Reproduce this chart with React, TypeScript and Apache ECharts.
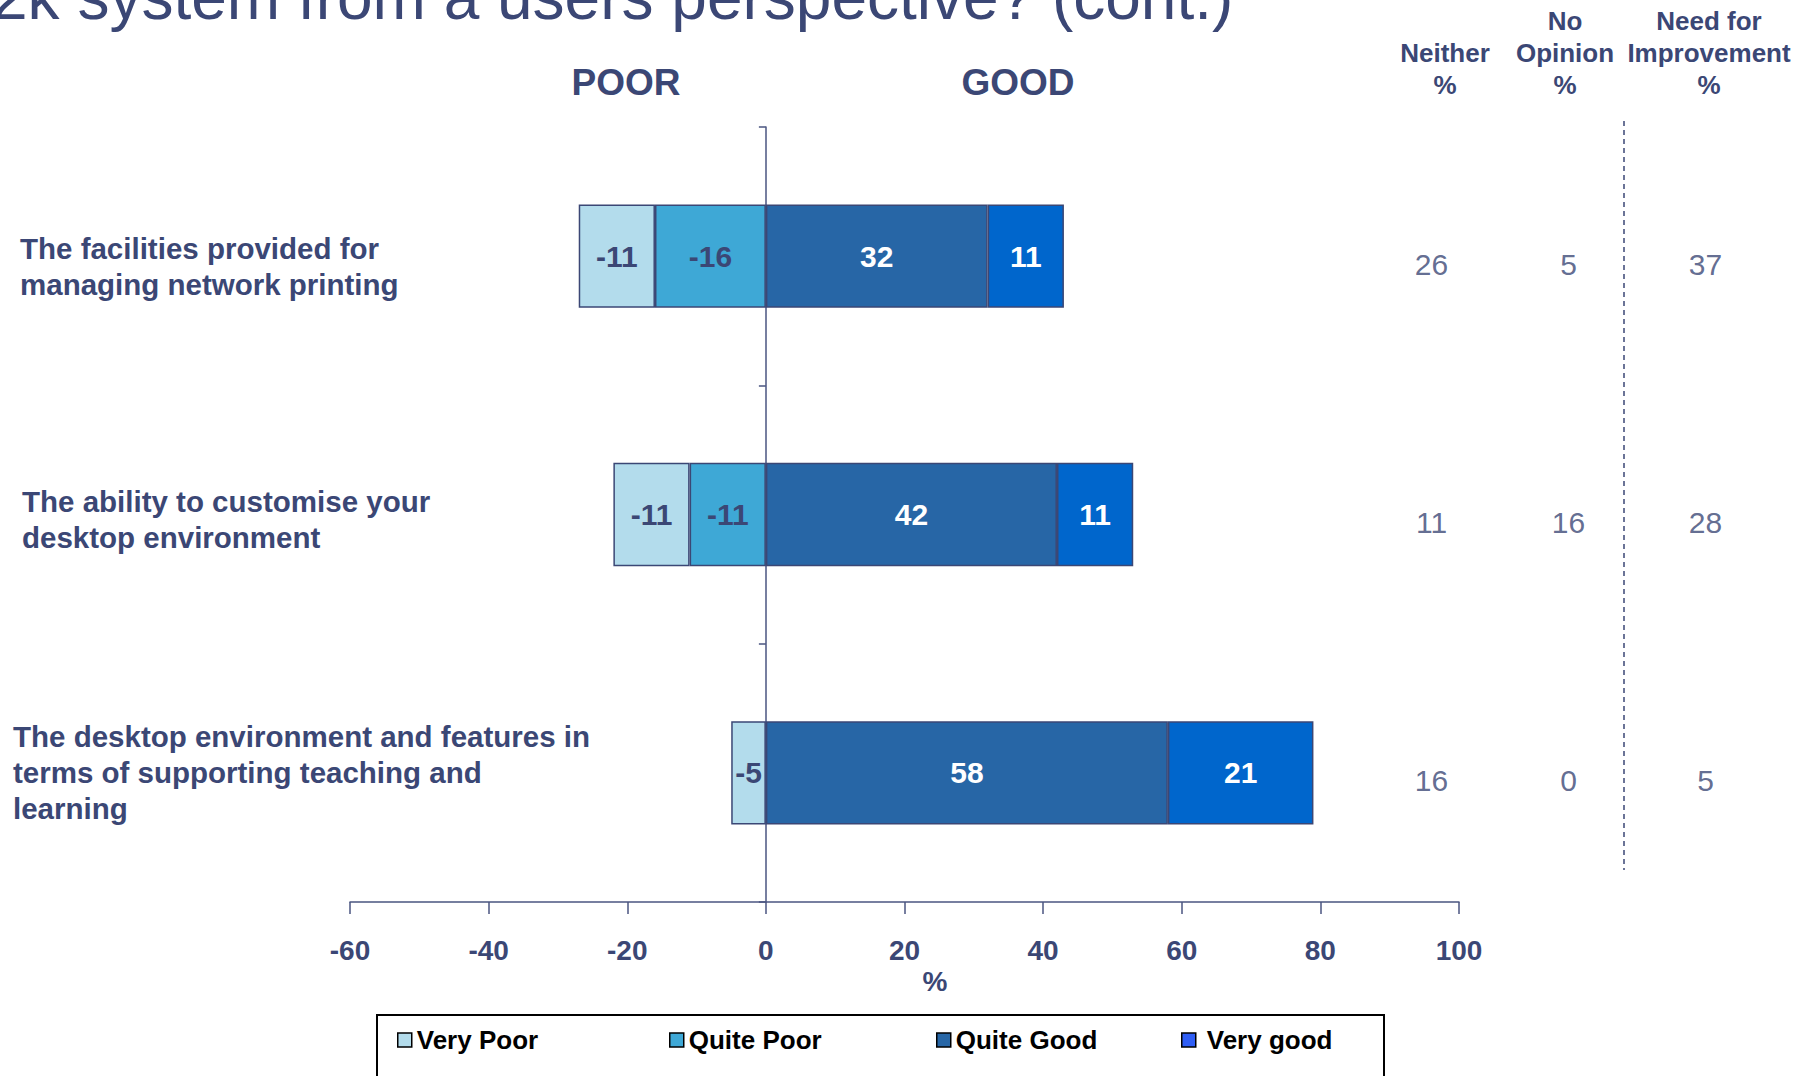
import React, { useEffect, useRef } from "react";
import * as echarts from "echarts";

const categories = [
  "The facilities provided for\nmanaging network printing",
  "The ability to customise your\ndesktop environment",
  "The desktop environment and features in\nterms of supporting teaching and\nlearning",
];
const veryPoor = [-11, -11, -5];
const quitePoor: (number | null)[] = [-16, -11, null];
const quiteGood = [32, 42, 58];
const veryGood = [11, 11, 21];

const tableColumns = ["Neither", "No Opinion", "Need for Improvement"];
const neither = [26, 11, 16];
const noOpinion = [5, 16, 0];
const needImprovement = [37, 28, 5];

const xMin = -60;
const xMax = 100;
const xInterval = 20;

const TEXT = "#3B4775";
const FONT = "'Liberation Sans', Arial, sans-serif";
const C_VP = "#B3DCEC";
const C_QP = "#3EA8D6";
const C_QG = "#2766A6";
const C_VG = "#0066CC";

// per-category label nudges to match the reference layout
const labelPadLeft = [7, 9, 0];
const labelSpacer = ["s20", "s10", ""];

export default function App() {
  const ref = useRef<HTMLDivElement>(null);
  useEffect(() => {
    if (!ref.current) return;
    const chart = echarts.init(ref.current, undefined, { renderer: "svg" });

    const barLabel = (color: string) => ({
      show: true,
      position: "inside",
      color,
      fontSize: 30,
      fontWeight: "bold",
      fontFamily: FONT,
      formatter: (p: any) => (p.value == null ? "" : String(p.value)),
    });
    const barBase = {
      type: "bar",
      stack: "total",
      barWidth: "40%",
      xAxisIndex: 0,
      yAxisIndex: 0,
    };

    const tableSeries = [neither, noOpinion, needImprovement].map((arr, ci) => ({
      type: "scatter",
      name: tableColumns[ci],
      xAxisIndex: 1,
      yAxisIndex: 1,
      symbolSize: 1,
      itemStyle: { color: "rgba(0,0,0,0)" },
      data: arr.map((v, i) => [ci, i, v]),
      label: {
        show: true,
        position: "inside",
        color: TEXT,
        fontSize: 30,
        fontFamily: FONT,
        formatter: (p: any) => String(p.value[2]),
      },
    }));

    const legendDefs = [
      { name: "Very Poor", color: C_VP, left: 397, pad: 0 },
      { name: "Quite Poor", color: C_QP, left: 669, pad: 0 },
      { name: "Quite Good", color: C_QG, left: 936, pad: 0 },
      { name: "Very good", color: "#2F5EF5", left: 1181, pad: 6 },
    ];

    const headerText = (text: string, x: number, y: number) => ({
      type: "text",
      x,
      y,
      style: {
        text,
        fill: TEXT,
        fontSize: 26,
        fontWeight: "bold",
        fontFamily: FONT,
        align: "center",
        verticalAlign: "middle",
      },
    });

    const catLabelStyle = {
      color: TEXT,
      fontSize: 29.5,
      fontWeight: "bold",
      fontFamily: FONT,
      align: "left",
      verticalAlign: "middle",
      lineHeight: 36,
      rich: {
        a: {
          color: TEXT,
          fontSize: 29.5,
          fontWeight: "bold",
          fontFamily: FONT,
          lineHeight: 36,
        },
        s20: { fontSize: 1, lineHeight: 20 },
        s10: { fontSize: 1, lineHeight: 10 },
      },
    };

    const catFormatter = (value: string) => {
      const idx = categories.indexOf(value);
      const lines = value.split("\n").map((l) => `{a|${l}}`);
      const sp = idx >= 0 ? labelSpacer[idx] : "";
      return (sp ? `{${sp}| }\n` : "") + lines.join("\n");
    };

    chart.setOption({
      animation: false,
      backgroundColor: "#ffffff",
      grid: [
        { left: 350, right: 355, top: 127, bottom: 174, containLabel: false, outerBoundsMode: "none" },
        { left: 1363, width: 411, top: 135, height: 775, containLabel: false, outerBoundsMode: "none" },
      ],
      xAxis: [
        {
          type: "value",
          gridIndex: 0,
          min: xMin,
          max: xMax,
          interval: xInterval,
          splitLine: { show: false },
          axisLine: { show: true, lineStyle: { color: "#4A5580", width: 1.5 } },
          axisTick: { show: true, length: 12, lineStyle: { color: "#4A5580", width: 1.5 } },
          axisLabel: {
            color: TEXT,
            fontSize: 28,
            fontWeight: "bold",
            fontFamily: FONT,
            margin: 34,
          },
        },
        {
          type: "category",
          gridIndex: 1,
          data: tableColumns,
          show: false,
        },
      ],
      yAxis: [
        {
          type: "category",
          gridIndex: 0,
          data: categories.map((c, i) => ({
            value: c,
            textStyle: { ...catLabelStyle, padding: [0, 0, 0, labelPadLeft[i]] },
          })),
          inverse: true,
          axisLine: { show: true, onZero: true, lineStyle: { color: "#4A5580", width: 1.5 } },
          axisTick: { show: true, length: 7, lineStyle: { color: "#4A5580", width: 1.5 } },
          axisLabel: {
            ...catLabelStyle,
            margin: 337,
            formatter: catFormatter,
          },
          splitLine: { show: false },
        },
        {
          type: "category",
          gridIndex: 1,
          data: categories,
          inverse: true,
          show: false,
        },
      ],
      legend: legendDefs.map((d) => ({
        data: [
          {
            name: d.name,
            icon: "rect",
            itemStyle: { color: d.color, borderColor: "#000", borderWidth: 1.5 },
          },
        ],
        left: d.left,
        top: 1027,
        padding: 0,
        itemWidth: 14,
        itemHeight: 14,
        selectedMode: false,
        textStyle: {
          color: "#000",
          fontSize: 26,
          fontWeight: "bold",
          fontFamily: FONT,
          padding: [0, 0, 0, d.pad],
        },
      })),
      series: [
        {
          ...barBase,
          name: "Quite Poor",
          data: quitePoor,
          itemStyle: { color: C_QP, borderColor: TEXT, borderWidth: 1.5 },
          label: barLabel(TEXT),
        },
        {
          ...barBase,
          name: "Very Poor",
          data: veryPoor,
          itemStyle: { color: C_VP, borderColor: TEXT, borderWidth: 1.5 },
          label: barLabel(TEXT),
        },
        {
          ...barBase,
          name: "Quite Good",
          data: quiteGood,
          itemStyle: { color: C_QG, borderColor: TEXT, borderWidth: 1.5 },
          label: barLabel("#ffffff"),
        },
        {
          ...barBase,
          name: "Very good",
          data: veryGood,
          itemStyle: { color: C_VG, borderColor: TEXT, borderWidth: 1.5 },
          label: barLabel("#ffffff"),
        },
        ...tableSeries,
      ],
      graphic: [
        {
          type: "text",
          x: -8,
          y: -3,
          style: {
            text: "2k system from a users perspective? (cont.)",
            fill: TEXT,
            fontSize: 64,
            fontFamily: FONT,
            align: "left",
            verticalAlign: "middle",
          },
        },
        {
          type: "text",
          x: 626,
          y: 82,
          style: {
            text: "POOR",
            fill: TEXT,
            fontSize: 37,
            fontWeight: "bold",
            fontFamily: FONT,
            align: "center",
            verticalAlign: "middle",
          },
        },
        {
          type: "text",
          x: 1018,
          y: 82,
          style: {
            text: "GOOD",
            fill: TEXT,
            fontSize: 37,
            fontWeight: "bold",
            fontFamily: FONT,
            align: "center",
            verticalAlign: "middle",
          },
        },
        headerText("Neither", 1445, 53),
        headerText("%", 1445, 85),
        headerText("No", 1565, 21),
        headerText("Opinion", 1565, 53),
        headerText("%", 1565, 85),
        headerText("Need for", 1709, 21),
        headerText("Improvement", 1709, 53),
        headerText("%", 1709, 85),
        {
          type: "line",
          shape: { x1: 1624, y1: 121, x2: 1624, y2: 870 },
          style: { stroke: TEXT, lineWidth: 1.5, lineDash: [5, 4] },
        },
        {
          type: "text",
          x: 935,
          y: 981,
          style: {
            text: "%",
            fill: TEXT,
            fontSize: 28,
            fontWeight: "bold",
            fontFamily: FONT,
            align: "center",
            verticalAlign: "middle",
          },
        },
        {
          type: "rect",
          shape: { x: 377, y: 1015, width: 1007, height: 80 },
          style: { fill: "none", stroke: "#000", lineWidth: 2 },
        },
      ],
    });
    return () => chart.dispose();
  }, []);
  return (
    <div
      ref={ref}
      style={{ position: "absolute", left: 0, top: 0, width: 1814, height: 1076, background: "#fff" }}
    />
  );
}
